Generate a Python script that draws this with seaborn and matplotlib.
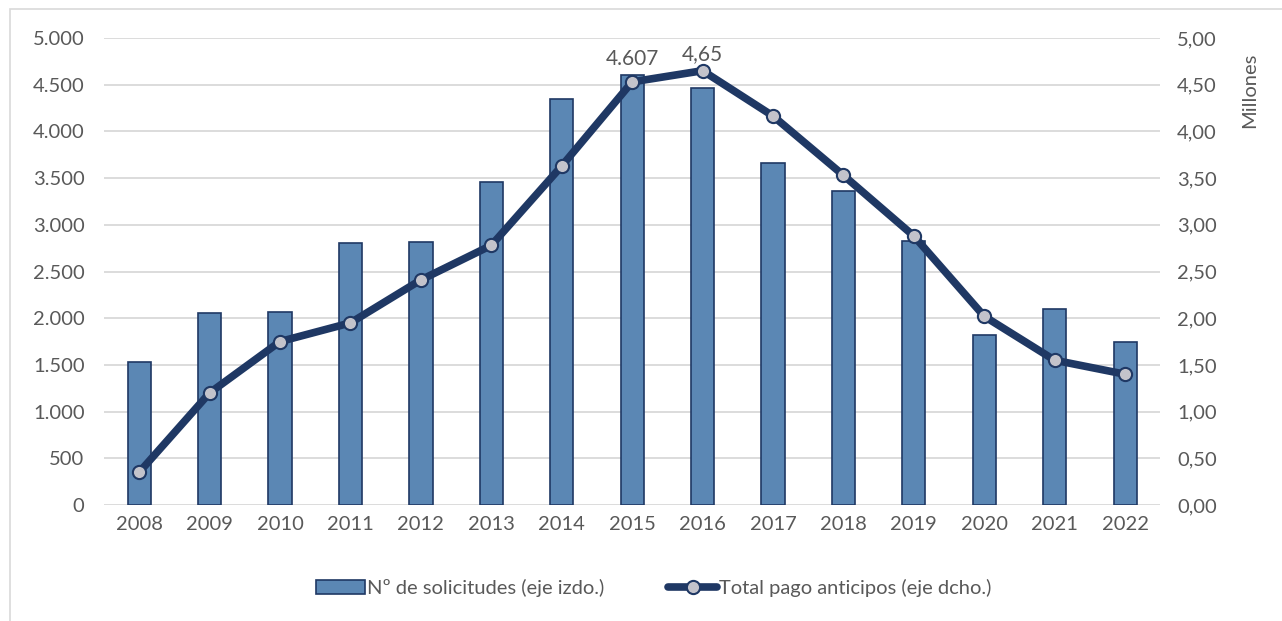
import matplotlib
matplotlib.use("Agg")
import matplotlib.pyplot as plt
import seaborn as sns
import pandas as pd
import numpy as np
from matplotlib.ticker import FuncFormatter
from matplotlib.lines import Line2D
from matplotlib.patches import Patch

years = ['2008', '2009', '2010', '2011', '2012', '2013', '2014', '2015',
         '2016', '2017', '2018', '2019', '2020', '2021', '2022']
solicitudes = [1530, 2060, 2070, 2800, 2820, 3460, 4350, 4607,
               4460, 3660, 3360, 2830, 1820, 2100, 1745]
pago_millones = [0.35, 1.20, 1.75, 1.95, 2.41, 2.78, 3.63, 4.53,
                 4.65, 4.165, 3.53, 2.88, 2.02, 1.55, 1.40]

bar_label = '4.607'
line_label = '4,65'

sns.set_style('white')
plt.rcParams['font.family'] = ['Lato', 'DejaVu Sans']
text_color = '#595959'
bar_color = '#5B87B4'
navy = '#1F3864'
fs = 14.5

df = pd.DataFrame({'year': years, 'solicitudes': solicitudes,
                   'pago': pago_millones, 'pos': np.arange(len(years))})

fig = plt.figure(figsize=(12.82, 6.21), dpi=100)
ax = fig.add_axes([0.0811, 0.1868, 0.824, 0.752])
ax2 = ax.twinx()

sns.barplot(data=df, x='year', y='solicitudes', color=bar_color, width=0.33,
            edgecolor=navy, linewidth=1.2, saturation=1, ax=ax, zorder=2)
sns.lineplot(data=df, x='pos', y='pago', color=navy, linewidth=5.5,
             marker='o', markersize=9.5, markerfacecolor='#C3C3CB',
             markeredgecolor=navy, markeredgewidth=1.5, ax=ax2, zorder=3)

ax.set_xlim(-0.5, 14.5)
ax.set_ylim(0, 5000)
ax2.set_ylim(0, 5)
ax.set_yticks(np.arange(0, 5001, 500))
ax2.set_yticks(np.arange(0, 5.01, 0.5))
ax.yaxis.set_major_formatter(FuncFormatter(lambda v, p: f'{int(v):,}'.replace(',', '.')))
ax2.yaxis.set_major_formatter(FuncFormatter(lambda v, p: f'{v:.2f}'.replace('.', ',')))

ax.grid(axis='y', color='#D9D9D9', linewidth=1.3, zorder=0)
ax.set_axisbelow(True)
for a in (ax, ax2):
    for s in a.spines.values():
        s.set_visible(False)
    a.tick_params(length=0, labelsize=fs, colors=text_color)
    a.set_xlabel('')
    a.set_ylabel('')
ax.tick_params(axis='x', pad=8)
ax.tick_params(axis='y', pad=14)
ax2.tick_params(axis='y', pad=12)

ax.text(7, 4607 + 60, bar_label, ha='center', va='bottom', fontsize=fs + 0.5, color=text_color)
ax2.text(8, 4.65 + 0.07, line_label, ha='center', va='bottom', fontsize=fs + 0.5, color=text_color)

fig.text(0.975, 0.855, 'Millones', rotation=90, ha='center', va='center',
         fontsize=fs, color=text_color)

handles = [Patch(facecolor=bar_color, edgecolor=navy, linewidth=1.2),
           Line2D([0], [0], color=navy, linewidth=5.5, marker='o', markersize=9.5,
                  markerfacecolor='#C3C3CB', markeredgecolor=navy, markeredgewidth=1.5)]
fig.legend(handles, ['Nº de solicitudes (eje izdo.)', 'Total pago anticipos (eje dcho.)'],
           loc='center', bbox_to_anchor=(0.51, 0.053), ncol=2, frameon=False,
           fontsize=fs, labelcolor=text_color, handlelength=2.4, handletextpad=0.1,
           columnspacing=3.2)

fig.patches.append(plt.Rectangle((0.008, -0.01), 1.1, 0.995, transform=fig.transFigure,
                                 fill=False, edgecolor='#D9D9D9', linewidth=1.2))

fig.savefig('out.png', dpi=100)
